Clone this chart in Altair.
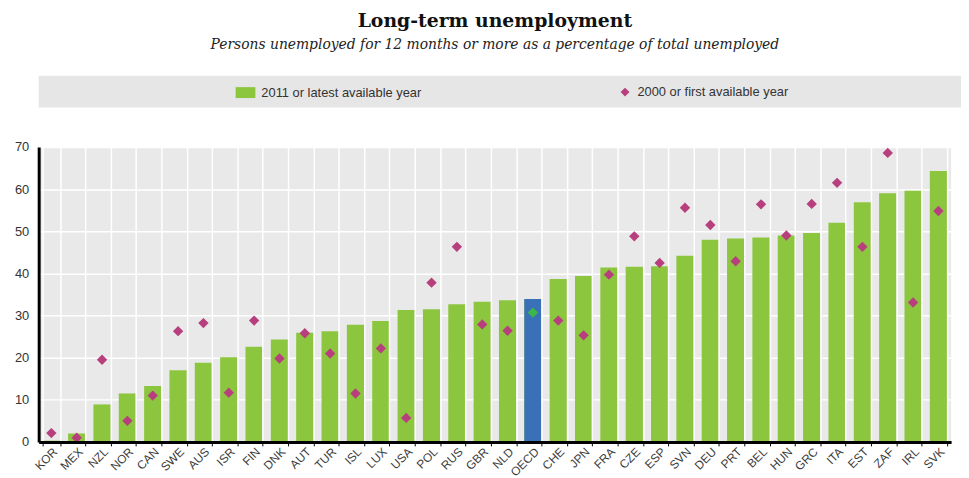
import altair as alt
import pandas as pd

countries = ["KOR", "MEX", "NZL", "NOR", "CAN", "SWE", "AUS", "ISR", "FIN", "DNK",
             "AUT", "TUR", "ISL", "LUX", "USA", "POL", "RUS", "GBR", "NLD", "OECD",
             "CHE", "JPN", "FRA", "CZE", "ESP", "SVN", "DEU", "PRT", "BEL", "HUN",
             "GRC", "ITA", "EST", "ZAF", "IRL", "SVK"]
latest_2011 = [0.3, 2.0, 8.9, 11.5, 13.3, 17.0, 18.8, 20.1, 22.6, 24.3,
               25.9, 26.3, 27.8, 28.7, 31.3, 31.5, 32.7, 33.3, 33.6, 33.9,
               38.7, 39.4, 41.4, 41.6, 41.7, 44.2, 48.0, 48.3, 48.5, 49.0,
               49.6, 52.0, 56.9, 59.0, 59.6, 64.3]
first_2000 = [2.1, 1.0, 19.5, 5.0, 11.0, 26.3, 28.2, 11.7, 28.8, 19.8,
              25.8, 21.0, 11.5, 22.2, 5.7, 37.8, 46.3, 27.9, 26.4, 30.7,
              28.8, 25.3, 39.7, 48.8, 42.5, 55.6, 51.5, 42.9, 56.4, 49.0,
              56.5, 61.5, 46.3, 68.6, 33.1, 54.8]

SERIES_BAR = "2011 or latest available year"
SERIES_PT = "2000 or first available year"

GREEN = "#8cc63f"
BLUE = "#3a70b8"
PURPLE = "#b83f7d"
OECD_PT = "#3cb54a"
SANS = "Liberation Sans"
SERIF = "DejaVu Serif"

W = 922
H = 298

df = pd.DataFrame({"country": countries, "latest": latest_2011, "first": first_2000})
df["s1"] = SERIES_BAR
df["s2"] = SERIES_PT

x_enc = alt.X("country:N", sort=countries, title=None,
              scale=alt.Scale(paddingInner=0.32, paddingOuter=0.16),
              axis=alt.Axis(labelAngle=-45, tickBand="extent", grid=True,
                            gridColor="white", gridWidth=1.5,
                            domainColor="black", domainWidth=3,
                            tickColor="black", tickSize=4, tickWidth=1,
                            labelFont=SANS, labelFontSize=12, labelColor="#3a3a3a",
                            labelPadding=0, zindex=1))
y_scale = alt.Scale(domain=[0, 70], nice=False)
y_axis = alt.Axis(values=list(range(0, 71, 10)), title=None, ticks=False,
                  grid=True, gridColor="white", gridWidth=1.5,
                  domainColor="black", domainWidth=3,
                  labelFont=SANS, labelFontSize=13, labelColor="#333333",
                  labelPadding=10)

band = alt.Chart(alt.Data(values=[{}])).mark_rect(color="#e6e6e6").encode(
    x=alt.value(0), x2=alt.value(W + 10), y=alt.value(-72), y2=alt.value(-40)
)

bars = alt.Chart(df).mark_bar().encode(
    x=x_enc,
    y=alt.Y("latest:Q", scale=y_scale, axis=y_axis),
    color=alt.Color("s1:N", scale=alt.Scale(domain=[SERIES_BAR], range=[GREEN]),
                    legend=alt.Legend(title=None, orient="none", legendX=199, legendY=-65,
                                      symbolType="M-1,-0.55H1V0.55H-1Z", symbolSize=400,
                                      symbolStrokeWidth=0, symbolOpacity=1,
                                      labelFont=SANS, labelFontSize=13, labelColor="#333333",
                                      labelOffset=6, labelLimit=0, padding=0)),
)

oecd_bar = alt.Chart(df).transform_filter(alt.datum.country == "OECD").mark_bar(color=BLUE).encode(
    x=alt.X("country:N", sort=countries),
    y=alt.Y("latest:Q", scale=y_scale),
)

points = alt.Chart(df).mark_point(filled=True, size=110, opacity=1).encode(
    x=alt.X("country:N", sort=countries),
    y=alt.Y("first:Q", scale=y_scale),
    shape=alt.Shape("s2:N", scale=alt.Scale(domain=[SERIES_PT], range=["diamond"]),
                    legend=alt.Legend(title=None, orient="none", legendX=586, legendY=-62,
                                      symbolSize=81, symbolFillColor=PURPLE,
                                      symbolStrokeColor=PURPLE, symbolStrokeWidth=0,
                                      symbolOpacity=1,
                                      labelFont=SANS, labelFontSize=13, labelColor="#333333",
                                      labelOffset=6, labelLimit=0, padding=0)),
    color=alt.condition(alt.datum.country == "OECD", alt.value(OECD_PT), alt.value(PURPLE)),
)

chart = alt.layer(band, bars, oecd_bar, points).properties(
    width=W, height=H,
    padding={"left": 6, "top": 2, "right": 0, "bottom": 0},
    title=alt.TitleParams(
        text="Long-term unemployment",
        subtitle="Persons unemployed for 12 months or more as a percentage of total unemployed",
        font=SERIF, fontSize=19, fontWeight="bold", color="#111111",
        subtitleFont=SERIF, subtitleFontSize=14, subtitleFontStyle="italic",
        subtitleColor="#222222", subtitlePadding=7,
        anchor="middle", frame="group", offset=24,
    ),
).configure_view(fill="#e9e9e9", strokeWidth=0)

chart.save("out.html", embed_options={"renderer": "svg", "actions": False})
